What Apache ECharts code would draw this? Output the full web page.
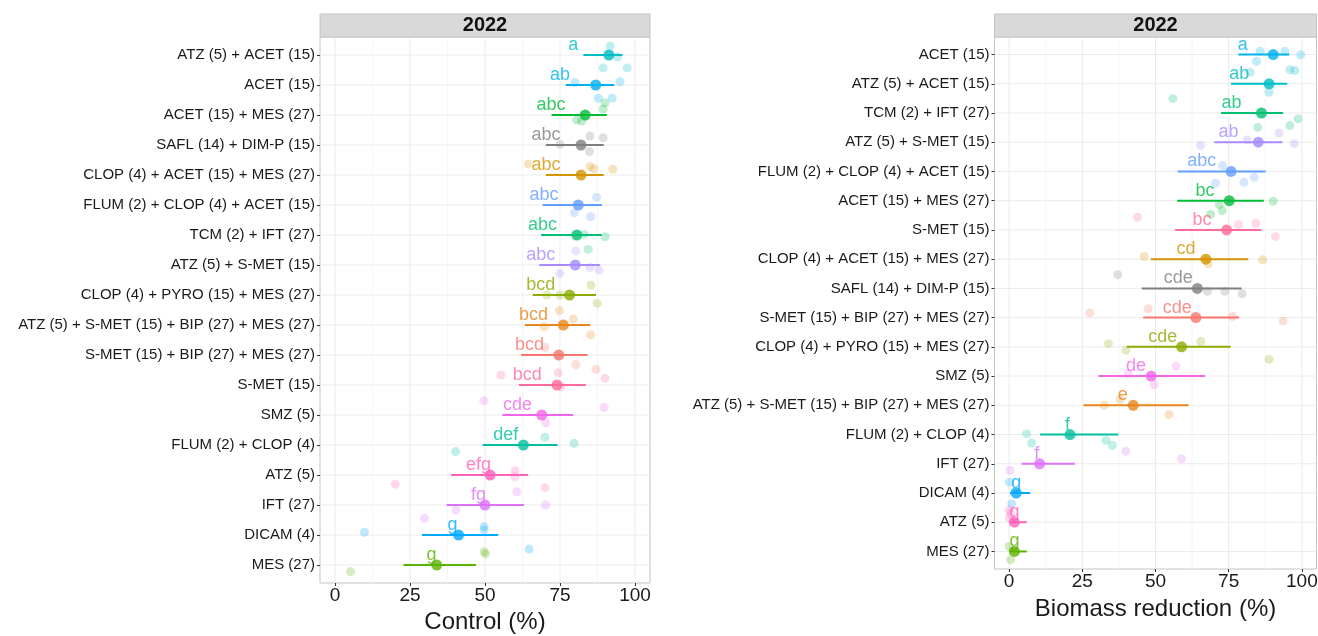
<!DOCTYPE html>
<html>
<head>
<meta charset="utf-8">
<script src="https://cdn.jsdelivr.net/npm/echarts@6/dist/echarts.min.js"></script>
<style>
html,body{margin:0;padding:0;background:#fff;}
#chart{width:1318px;height:636px;}
</style>
</head>
<body>
<div id="chart"></div>
<script>
// ---------- DATA ----------
const xTicks = [0, 25, 50, 75, 100];
const stripLabel = '2022';
const leftTitle = 'Control (%)';
const rightTitle = 'Biomass reduction (%)';

const leftRows = ['ATZ (5) + ACET (15)', 'ACET (15)', 'ACET (15) + MES (27)', 'SAFL (14) + DIM-P (15)',
  'CLOP (4) + ACET (15) + MES (27)', 'FLUM (2) + CLOP (4) + ACET (15)', 'TCM (2) + IFT (27)', 'ATZ (5) + S-MET (15)',
  'CLOP (4) + PYRO (15) + MES (27)', 'ATZ (5) + S-MET (15) + BIP (27) + MES (27)', 'S-MET (15) + BIP (27) + MES (27)',
  'S-MET (15)', 'SMZ (5)', 'FLUM (2) + CLOP (4)', 'ATZ (5)', 'IFT (27)', 'DICAM (4)', 'MES (27)'];
const leftMean = [91.3, 86.9, 83.4, 82.0, 82.0, 81.1, 80.6, 80.1, 78.2, 76.1, 74.6, 74.0, 68.9, 62.8, 51.7, 50.0, 41.2, 33.9];
const leftLow  = [82.8, 76.9, 72.2, 70.3, 70.3, 69.2, 68.7, 68.1, 65.9, 63.3, 62.0, 61.3, 55.8, 49.2, 38.7, 37.2, 29.0, 22.8];
const leftHigh = [95.8, 93.1, 90.6, 89.6, 89.6, 89.0, 88.9, 88.3, 87.0, 85.0, 84.2, 83.6, 79.4, 74.2, 64.4, 63.0, 54.4, 47.0];
const leftLetters = ['a','ab','abc','abc','abc','abc','abc','abc','bcd','bcd','bcd','bcd','cde','def','efg','fg','g','g'];
const leftLetterX = [79.4, 75.0, 72.0, 70.3, 70.3, 69.7, 69.2, 68.6, 68.6, 66.2, 64.8, 64.1, 60.8, 56.9, 47.8, 47.8, 39.2, 32.2];
// replicate observations per row: [value, vertical jitter in row units]
const leftObs = [
  [[91.7,-0.30],[94.2,0.07],[89.4,0.43],[97.4,0.43]],
  [[80.0,-0.08],[95.0,-0.11],[87.8,0.44],[92.4,0.44]],
  [[90.0,-0.41],[89.4,-0.19],[80.6,0.17],[82.2,0.20]],
  [[75.0,-0.02],[85.0,-0.30],[89.4,-0.24],[84.8,0.22]],
  [[64.4,-0.37],[85.0,-0.28],[86.3,-0.21],[92.6,-0.19]],
  [[87.2,-0.26],[79.8,0.26],[85.2,0.39]],
  [[83.1,-0.02],[90.0,0.06],[84.4,0.48]],
  [[80.3,-0.47],[85.0,0.08],[88.0,0.17],[75.0,0.28]],
  [[70.6,0.00],[75.0,0.00],[85.3,-0.33],[87.4,0.28]],
  [[74.8,-0.48],[79.4,-0.20],[69.7,0.06],[85.2,0.33]],
  [[70.0,-0.26],[80.3,0.32],[87.0,0.48]],
  [[55.3,-0.33],[74.4,-0.41],[90.0,-0.22],[75.3,0.06]],
  [[49.6,-0.47],[89.7,-0.26],[70.3,0.26]],
  [[70.0,-0.26],[79.7,-0.06],[40.2,0.22]],
  [[60.0,-0.14],[60.0,0.06],[20.1,0.31],[70.0,0.42]],
  [[60.6,-0.44],[70.2,0.00],[40.3,0.17],[29.8,0.44]],
  [[9.8,-0.09],[49.7,-0.28],[49.7,-0.17],[64.7,0.47]],
  [[49.7,-0.44],[50.2,-0.37],[5.2,0.22]]
];

const rightRows = ['ACET (15)', 'ATZ (5) + ACET (15)', 'TCM (2) + IFT (27)', 'ATZ (5) + S-MET (15)',
  'FLUM (2) + CLOP (4) + ACET (15)', 'ACET (15) + MES (27)', 'S-MET (15)', 'CLOP (4) + ACET (15) + MES (27)',
  'SAFL (14) + DIM-P (15)', 'S-MET (15) + BIP (27) + MES (27)', 'CLOP (4) + PYRO (15) + MES (27)', 'SMZ (5)',
  'ATZ (5) + S-MET (15) + BIP (27) + MES (27)', 'FLUM (2) + CLOP (4)', 'IFT (27)', 'DICAM (4)', 'ATZ (5)', 'MES (27)'];
const rightMean = [90.2, 88.8, 86.2, 85.1, 75.8, 75.2, 74.3, 67.2, 64.3, 63.8, 58.9, 48.5, 42.4, 20.8, 10.4, 2.4, 1.8, 1.8];
const rightLow  = [78.3, 75.8, 72.4, 70.1, 57.6, 57.4, 56.7, 48.4, 45.3, 45.8, 40.2, 30.5, 25.4, 10.6, 4.3, 0.3, 0.0, 0.0];
const rightHigh = [95.7, 95.0, 93.6, 93.3, 87.6, 87.0, 86.2, 81.7, 79.4, 78.6, 75.7, 66.9, 61.3, 37.3, 22.5, 7.2, 6.0, 6.0];
const rightLetters = ['a','ab','ab','ab','abc','bc','bc','cd','cde','cde','cde','de','e','f','f','g','g','g'];
const rightLetterX = [79.8, 78.6, 76.0, 74.9, 65.8, 66.9, 65.9, 60.4, 57.8, 57.4, 52.5, 43.3, 38.8, 19.9, 9.4, 2.4, 1.8, 1.8];
const rightObs = [
  [[85.7,-0.11],[94.2,-0.11],[99.6,0.01],[84.5,0.23]],
  [[82.3,-0.39],[95.9,-0.48],[97.6,-0.45],[88.8,0.29]],
  [[55.9,-0.49],[98.7,0.20],[95.9,0.43],[84.9,0.49]],
  [[65.4,0.11],[81.3,-0.08],[92.2,-0.31],[97.4,0.05]],
  [[72.9,-0.20],[80.2,0.37],[83.7,0.20],[70.5,0.40]],
  [[90.2,0.02],[71.8,0.13],[72.8,0.34],[68.8,0.47]],
  [[43.8,-0.43],[78.3,-0.18],[84.3,-0.23],[91.0,0.23]],
  [[46.1,-0.09],[86.6,0.02],[68.0,0.16]],
  [[37.1,-0.47],[67.7,0.10],[73.7,0.10],[79.6,0.18]],
  [[27.6,-0.16],[47.5,-0.30],[76.3,-0.04],[93.6,0.12]],
  [[33.9,-0.11],[39.9,0.12],[65.5,-0.18],[88.8,0.43]],
  [[57.0,-0.34],[49.5,0.30],[40.7,-0.08]],
  [[32.5,0.00],[54.6,0.32],[37.9,-0.21]],
  [[6.0,-0.03],[7.7,0.29],[33.1,0.20],[35.3,0.37]],
  [[39.9,-0.43],[58.9,-0.17],[0.3,0.23]],
  [[0.1,-0.37],[0.9,0.37]],
  [[0.0,-0.43],[0.5,-0.30],[0.0,-0.15]],
  [[0.0,-0.17],[0.5,0.28]]
];

// ---------- STYLE ----------
const treatmentColor = {
  'ATZ (5) + ACET (15)': '#00BCC4',
  'ACET (15)': '#00B2EE',
  'ACET (15) + MES (27)': '#00BA38',
  'SAFL (14) + DIM-P (15)': '#7F7F7F',
  'CLOP (4) + ACET (15) + MES (27)': '#D69300',
  'FLUM (2) + CLOP (4) + ACET (15)': '#619CFF',
  'TCM (2) + IFT (27)': '#00BF72',
  'ATZ (5) + S-MET (15)': '#A88BFF',
  'CLOP (4) + PYRO (15) + MES (27)': '#8AAB00',
  'ATZ (5) + S-MET (15) + BIP (27) + MES (27)': '#E7861B',
  'S-MET (15) + BIP (27) + MES (27)': '#F8766D',
  'S-MET (15)': '#FF6A98',
  'SMZ (5)': '#F066EA',
  'FLUM (2) + CLOP (4)': '#00BF9C',
  'ATZ (5)': '#FF62BC',
  'IFT (27)': '#DB72FB',
  'DICAM (4)': '#00A9FF',
  'MES (27)': '#5BB300'
};
const FONT = 'Liberation Sans, Arial, Helvetica, sans-serif';
const TEXT = '#1A1A1A';

const panels = [
  {rows:leftRows, mean:leftMean, low:leftLow, high:leftHigh, letters:leftLetters, letterX:leftLetterX, obs:leftObs,
   title:leftTitle, grid:{left:320, top:37, width:330, height:546}, nameGap:27},
  {rows:rightRows, mean:rightMean, low:rightLow, high:rightHigh, letters:rightLetters, letterX:rightLetterX, obs:rightObs,
   title:rightTitle, grid:{left:994.5, top:37, width:322, height:532}, nameGap:28}
];

const grids = [], xAxes = [], yAxes = [], series = [], graphics = [];
panels.forEach((p, k) => {
  const col = i => treatmentColor[p.rows[i]];
  grids.push(Object.assign({show:true, borderColor:'#C4C4C4', borderWidth:1, backgroundColor:'#fff',
    containLabel:false, outerBoundsMode:'none'}, p.grid));
  xAxes.push({
    type:'value', gridIndex:k, min:-5, max:105, interval:5, position:'bottom',
    axisLine:{show:false, onZero:false},
    axisTick:{show:true, customValues:xTicks, length:3, lineStyle:{color:'#333', width:1}},
    splitLine:{show:false},
    axisLabel:{formatter:v => xTicks.indexOf(v) >= 0 ? String(v) : '', fontSize:19, color:TEXT, fontFamily:FONT, margin:3},
    name:p.title, nameLocation:'middle', nameGap:p.nameGap,
    nameTextStyle:{fontSize:24, color:TEXT, fontFamily:FONT}
  });
  yAxes.push({
    type:'value', gridIndex:k, inverse:true, min:-0.6, max:17.6, interval:0.2, position:'left',
    axisLine:{show:false, onZero:false},
    axisTick:{show:true, customValues:p.rows.map((_, i) => i), length:3, lineStyle:{color:'#333', width:1}},
    splitLine:{show:false},
    axisLabel:{formatter:v => { const i = Math.round(v); return (Math.abs(v - i) < 1e-3 && i >= 0 && i < p.rows.length) ? p.rows[i] : ''; },
      fontSize:15, color:TEXT, fontFamily:FONT, margin:5}
  });
  // grid lines (kind 0 = major x, 1 = minor x, 2 = row line)
  const gridData = [];
  xTicks.forEach(v => gridData.push([v, 0]));
  xTicks.slice(0, -1).forEach((v, j) => gridData.push([(v + xTicks[j+1]) / 2, 1]));
  p.rows.forEach((_, i) => gridData.push([i, 2]));
  series.push({
    type:'custom', xAxisIndex:k, yAxisIndex:k, z:0, silent:true, animation:false,
    data:gridData, encode:{x:-1, y:-1},
    renderItem:(params, api) => {
      const cs = params.coordSys;
      const v = api.value(0), kind = api.value(1);
      if (kind === 2) {
        const y = api.coord([0, v])[1];
        return {type:'line', shape:{x1:cs.x, y1:y, x2:cs.x + cs.width, y2:y}, style:{stroke:'#EBEBEB', lineWidth:1}};
      }
      const x = api.coord([v, 0])[0];
      return {type:'line', shape:{x1:x, y1:cs.y, x2:x, y2:cs.y + cs.height},
        style:{stroke: kind === 0 ? '#EBEBEB' : '#F5F5F5', lineWidth:1}};
    }
  });
  // replicate points
  const obsData = [];
  p.obs.forEach((arr, i) => arr.forEach(o => obsData.push({value:[o[0], i + o[1]], itemStyle:{color:col(i)}})));
  series.push({type:'scatter', xAxisIndex:k, yAxisIndex:k, data:obsData, symbolSize:9, itemStyle:{opacity:0.25}, z:1, silent:true, animation:false});
  // letters
  series.push({
    type:'scatter', xAxisIndex:k, yAxisIndex:k, z:2, silent:true, animation:false,
    symbolSize:0.1, itemStyle:{color:'transparent'},
    data:p.letters.map((l, i) => ({value:[p.letterX[i], i], name:l,
      label:{show:true, position:'inside', offset:[0, -10], formatter:l, color:col(i), fontSize:18, fontFamily:FONT}}))
  });
  // confidence intervals
  series.push({
    type:'custom', xAxisIndex:k, yAxisIndex:k, z:3, silent:true, animation:false,
    data:p.rows.map((_, i) => [i, p.low[i], p.high[i]]),
    encode:{x:[1,2], y:0},
    renderItem:(params, api) => {
      const y = api.value(0);
      const a = api.coord([api.value(1), y]);
      const b = api.coord([api.value(2), y]);
      return {type:'line', shape:{x1:a[0], y1:a[1], x2:b[0], y2:b[1]}, style:{stroke:col(params.dataIndex), lineWidth:2}};
    }
  });
  // means
  series.push({
    type:'scatter', xAxisIndex:k, yAxisIndex:k, z:4, silent:true, animation:false, symbolSize:11,
    data:p.mean.map((m, i) => ({value:[m, i], itemStyle:{color:col(i)}}))
  });
  // strip
  const g = p.grid;
  graphics.push({type:'rect', shape:{x:g.left, y:14, width:g.width, height:g.top - 14},
    style:{fill:'#D9D9D9', stroke:'#C4C4C4', lineWidth:1}, z:10});
  graphics.push({type:'text', x:g.left + g.width / 2, y:14 + (g.top - 14) / 2,
    style:{text:stripLabel, fontSize:20, fontWeight:'bold', fill:'#111', fontFamily:FONT, align:'center', verticalAlign:'middle'}, z:11});
});

const chart = echarts.init(document.getElementById('chart'), null, {renderer:'canvas'});
chart.setOption({
  animation:false,
  backgroundColor:'#ffffff',
  grid:grids, xAxis:xAxes, yAxis:yAxes, series:series, graphic:graphics
});
</script>
</body>
</html>
